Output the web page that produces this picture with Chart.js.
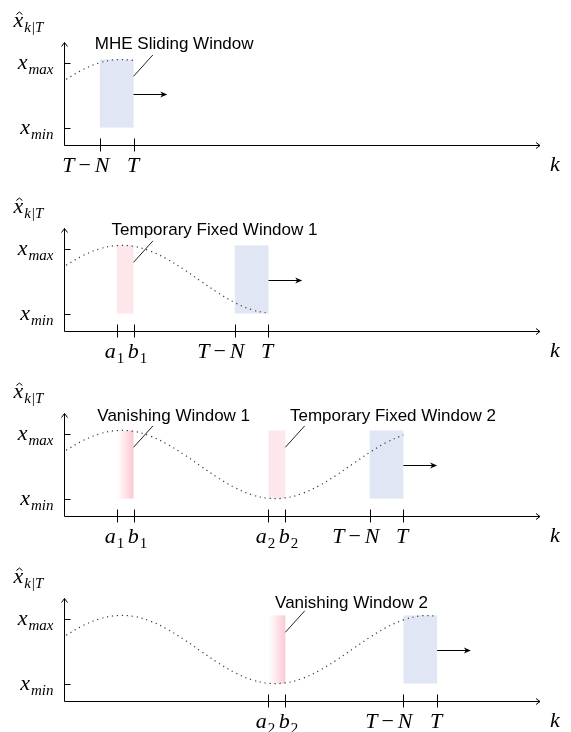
<!DOCTYPE html>
<html lang="en">
  <head>
    <meta charset="UTF-8" />
    <title>MHE windows</title>
    <script src="https://cdn.jsdelivr.net/npm/chart.js"></script>
    <style>
      html, body { margin: 0; padding: 0; background: #fff; overflow: hidden; }
      .panel { position: absolute; left: 0; }
    </style>
  </head>
  <body>
    <canvas id="p0" class="panel" width="571" height="180" style="top:0px"></canvas>
    <canvas id="p1" class="panel" width="571" height="180" style="top:186px"></canvas>
    <canvas id="p2" class="panel" width="571" height="180" style="top:371px"></canvas>
    <canvas id="p3" class="panel" width="571" height="180" style="top:556px"></canvas>
    <script>
      // estimate trajectory (k in units of N/2, 0 = x_min, 1 = x_max)
      const kSteps = [0, 1, 2, 3, 4, 5, 6, 7, 8, 9, 10, 11, 12, 13, 14, 15, 16, 17, 18, 19, 20, 21, 22];
      const xHat = [0.744, 0.893, 0.998, 1.047, 1.035, 0.962, 0.838, 0.677, 0.498, 0.322, 0.170, 0.060,
                    0.005, 0.011, 0.079, 0.199, 0.357, 0.534, 0.711, 0.866, 0.980, 1.042, 1.041];
      const winTop = 1.05;

      // one entry per panel
      const panelT = [4, 12, 20, 22];
      const slidingWin = [[2, 4], [10, 12], [18, 20], [20, 22]];
      const fixedWin = [[], [[3, 4]], [[12, 13]], []];
      const vanishWin = [[], [], [[3, 4]], [[12, 13]]];
      const tickK = [[2, 4], [3, 4, 10, 12], [3, 4, 12, 13, 18, 20], [12, 13, 20, 22]];
      const tickText = [
        ["T-N", "T"],
        ["a_1", "b_1", "T-N", "T"],
        ["a_1", "b_1", "a_2", "b_2", "T-N", "T"],
        ["a_2", "b_2", "T-N", "T"],
      ];
      const noteText = [
        ["MHE Sliding Window"],
        ["Temporary Fixed Window 1"],
        ["Vanishing Window 1", "Temporary Fixed Window 2"],
        ["Vanishing Window 2"],
      ];
      const noteFrom = [[4], [4], [4, 13], [13]];
      const yTickVal = [0, 1];
      const yTickText = ["x_min", "x_max"];

      // where the annotation texts sit (centre k, baseline value)
      const noteCenterK = [[6.41], [8.8], [6.38, 19.38], [16.92]];
      const noteBase = [1.215, 1.21, 1.19, 1.16];

      const MAIN = 22, SUB = 15;
      function mathParts(s) {
        if (s.indexOf("-") > 0) {
          const [a, b] = s.split("-");
          return [{ m: a }, { op: "\u2212" }, { m: b }];
        }
        const [m, sub] = s.split("_");
        return [{ m, sub }];
      }
      function fontMain(up) { return (up ? "" : "italic ") + MAIN + 'px "Liberation Serif"'; }
      function fontSub(t) { return (/^\d+$/.test(t) ? "" : "italic ") + SUB + 'px "Liberation Serif"'; }
      function mathWidth(ctx, parts) {
        let w = 0;
        parts.forEach(p => {
          if (p.op) { ctx.font = fontMain(true); w += ctx.measureText(p.op).width + 8; return; }
          ctx.font = fontMain(false); w += ctx.measureText(p.m).width;
          if (p.sub) { ctx.font = fontSub(p.sub); w += ctx.measureText(p.sub).width + 1; }
        });
        return w;
      }
      function drawMath(ctx, s, x, y, align, hat) {
        const parts = mathParts(s);
        const w = mathWidth(ctx, parts);
        let cx = align === "center" ? x - w / 2 : align === "right" ? x - w : x;
        ctx.textAlign = "left";
        ctx.textBaseline = "alphabetic";
        ctx.fillStyle = "#000";
        parts.forEach(p => {
          if (p.op) {
            ctx.font = fontMain(true);
            cx += 4;
            ctx.fillText(p.op, cx, y);
            cx += ctx.measureText(p.op).width + 4;
            return;
          }
          ctx.font = fontMain(false);
          ctx.fillText(p.m, cx, y);
          const mw = ctx.measureText(p.m).width;
          if (hat) {
            const hx = cx + mw / 2 + 1, ht = y - 14.5;
            ctx.beginPath();
            ctx.moveTo(hx - 3, ht + 2.5);
            ctx.lineTo(hx, ht);
            ctx.lineTo(hx + 3, ht + 2.5);
            ctx.strokeStyle = "#000";
            ctx.lineWidth = 1;
            ctx.stroke();
          }
          cx += mw;
          if (p.sub) {
            ctx.font = fontSub(p.sub);
            cx += 1;
            ctx.fillText(p.sub, cx, y + 5);
            cx += ctx.measureText(p.sub).width;
          }
        });
      }
      function crisp(v) { return Math.round(v) + 0.5; }
      function line(ctx, x0, y0, x1, y1) {
        ctx.beginPath(); ctx.moveTo(x0, y0); ctx.lineTo(x1, y1); ctx.stroke();
      }

      const sketch = {
        id: "sketch",
        beforeDatasetsDraw(chart, args, o) {
          const { ctx, scales: { x, y } } = chart;
          const p = o.panel;
          const top = y.getPixelForValue(winTop), bot = y.getPixelForValue(0);
          ctx.save();
          const [s0, s1] = slidingWin[p];
          ctx.fillStyle = "#e0e6f4";
          ctx.fillRect(x.getPixelForValue(s0), top, x.getPixelForValue(s1) - x.getPixelForValue(s0), bot - top);
          fixedWin[p].forEach(([a, b]) => {
            ctx.fillStyle = "#fde7eb";
            ctx.fillRect(x.getPixelForValue(a), top, x.getPixelForValue(b) - x.getPixelForValue(a), bot - top);
          });
          vanishWin[p].forEach(([a, b]) => {
            const xa = x.getPixelForValue(a), xb = x.getPixelForValue(b);
            const g = ctx.createLinearGradient(xa, 0, xb, 0);
            g.addColorStop(0, "rgba(252,205,214,0)");
            g.addColorStop(1, "rgba(252,200,210,1)");
            ctx.fillStyle = g;
            ctx.fillRect(xa, top, xb - xa, bot - top);
          });
          ctx.restore();
        },
        afterDatasetsDraw(chart, args, o) {
          const { ctx, chartArea: ca, scales: { x, y } } = chart;
          const p = o.panel;
          ctx.save();
          ctx.strokeStyle = "#000";
          ctx.lineWidth = 1;
          const ax = crisp(ca.left), ay = crisp(ca.bottom), right = ca.right, top = ca.top;

          // axes with open arrow tips
          line(ctx, ax, ay, right, ay);
          line(ctx, right - 4, ay - 3, right, ay);
          line(ctx, right - 4, ay + 3, right, ay);
          line(ctx, ax, ay, ax, top);
          line(ctx, ax - 3, top + 4, ax, top);
          line(ctx, ax + 3, top + 4, ax, top);

          // x ticks and labels
          tickK[p].forEach((k, i) => {
            const px = crisp(x.getPixelForValue(k));
            line(ctx, px, ay - 7, px, ay + 6);
            const t = tickText[p][i];
            if (t.indexOf("-") > 0) drawMath(ctx, t, px + 9, ay + 26, "right");
            else if (t[0] === "a") drawMath(ctx, t, px - 3, ay + 26, "center");
            else if (t[0] === "b") drawMath(ctx, t, px + 3, ay + 26, "center");
            else drawMath(ctx, t, px - 1.5, ay + 26, "center");
          });
          // y ticks and labels
          yTickVal.forEach((v, i) => {
            const py = crisp(y.getPixelForValue(v));
            line(ctx, ax, py, ax + 6, py);
            drawMath(ctx, yTickText[i], ax - 11, py + 5, "right");
          });
          drawMath(ctx, "x_k|T", ax - 51, top - 16, "left", true);
          drawMath(ctx, "k", right + 10, ay + 25, "left");

          // sliding arrow
          const mid = crisp(y.getPixelForValue(winTop / 2));
          const T = panelT[p];
          const x0 = x.getPixelForValue(T), x1 = x.getPixelForValue(T + 2);
          line(ctx, x0, mid, x1 - 3, mid);
          ctx.beginPath();
          ctx.moveTo(x1, mid);
          ctx.lineTo(x1 - 7, mid - 3);
          ctx.lineTo(x1 - 5, mid);
          ctx.lineTo(x1 - 7, mid + 3);
          ctx.closePath();
          ctx.fillStyle = "#000";
          ctx.fill();

          // leaders and notes
          noteText[p].forEach((txt, i) => {
            const b = noteFrom[p][i];
            ctx.strokeStyle = "#222";
            line(ctx, x.getPixelForValue(b), y.getPixelForValue(0.79),
                 x.getPixelForValue(b + 1.15), y.getPixelForValue(1.12));
            ctx.font = '17px "Liberation Sans"';
            ctx.fillStyle = "#000";
            ctx.textAlign = "center";
            ctx.textBaseline = "alphabetic";
            ctx.fillText(txt, x.getPixelForValue(noteCenterK[p][i]), y.getPixelForValue(noteBase[p]));
          });
          ctx.restore();
        },
      };

      function makeChart(p) {
        const data = [];
        kSteps.forEach((k, i) => {
          if (k <= panelT[p]) data.push({ x: k, y: xHat[i] });
        });
        new Chart(document.getElementById("p" + p), {
          type: "line",
          data: {
            datasets: [{
              data,
              borderColor: "#3a3a3a",
              borderWidth: 1.2,
              borderDash: [1.2, 3.8],
              pointRadius: 0,
              tension: 0.4,
              fill: false,
            }],
          },
          options: {
            responsive: false,
            animation: false,
            devicePixelRatio: 1,
            events: [],
            layout: { padding: { left: 64.4, right: 31, top: 42.5, bottom: 35.5 } },
            scales: {
              x: { type: "linear", min: -0.1, max: 28.1, display: false },
              y: { min: -0.26, max: 1.31, display: false },
            },
            plugins: { legend: { display: false }, tooltip: { enabled: false }, sketch: { panel: p } },
          },
          plugins: [sketch],
        });
      }

      [0, 1, 2, 3].forEach(makeChart);
    </script>
  </body>
</html>
